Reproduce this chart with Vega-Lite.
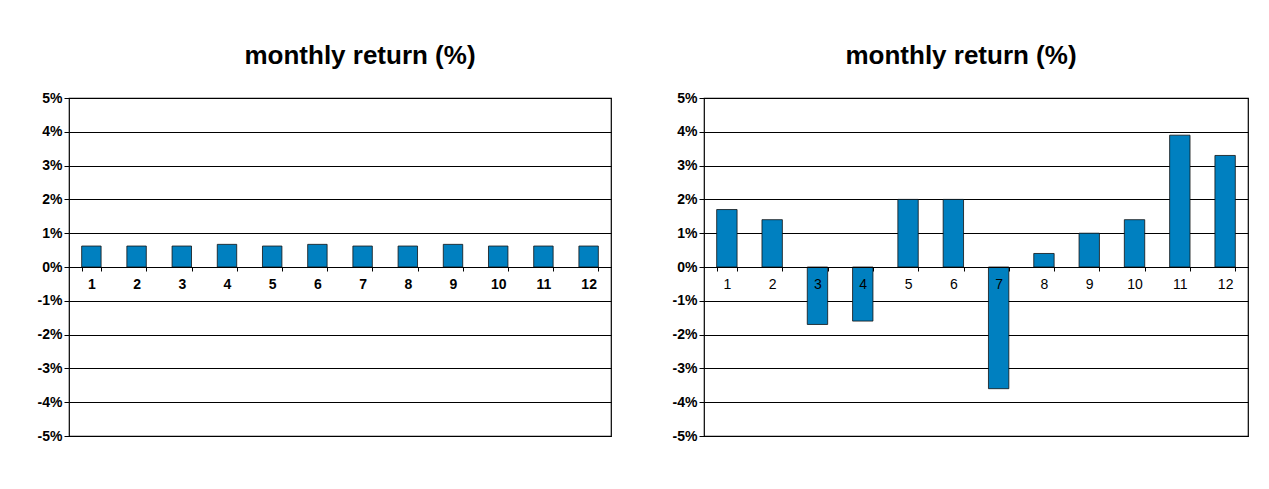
{
  "$schema": "https://vega.github.io/schema/vega-lite/v6.json",
  "background": "white",
  "padding": {"left": 28, "top": 42, "right": 5, "bottom": 5},
  "spacing": 51,
  "config": {
    "font": "Liberation Sans",
    "view": {"stroke": "#000", "strokeWidth": 1.2},
    "title": {"fontSize": 26, "fontWeight": "bold", "color": "#000", "offset": 22, "anchor": "middle"},
    "axis": {"labelColor": "#000", "tickColor": "#000", "domainColor": "#000", "labelFont": "Liberation Sans"}
  },
  "datasets": {
    "left": [
      {"month": "1", "ret": 0.62}, {"month": "2", "ret": 0.62}, {"month": "3", "ret": 0.62},
      {"month": "4", "ret": 0.67}, {"month": "5", "ret": 0.62}, {"month": "6", "ret": 0.67},
      {"month": "7", "ret": 0.62}, {"month": "8", "ret": 0.62}, {"month": "9", "ret": 0.67},
      {"month": "10", "ret": 0.62}, {"month": "11", "ret": 0.62}, {"month": "12", "ret": 0.62}
    ],
    "right": [
      {"month": "1", "ret": 1.7}, {"month": "2", "ret": 1.4}, {"month": "3", "ret": -1.7},
      {"month": "4", "ret": -1.6}, {"month": "5", "ret": 2.0}, {"month": "6", "ret": 2.0},
      {"month": "7", "ret": -3.6}, {"month": "8", "ret": 0.4}, {"month": "9", "ret": 1.0},
      {"month": "10", "ret": 1.4}, {"month": "11", "ret": 3.9}, {"month": "12", "ret": 3.3}
    ]
  },
  "hconcat": [
    {
      "title": {"text": "monthly return (%)", "dx": 20},
      "width": 542,
      "height": 338,
      "data": {"name": "left"},
      "mark": {"type": "bar", "fill": "#0080c0", "stroke": "#111", "strokeWidth": 0.8},
      "encoding": {
        "x": {
          "field": "month", "type": "ordinal", "sort": null,
          "scale": {"paddingInner": 0.57, "paddingOuter": 0.28},
          "axis": {"title": null, "labelAngle": 0, "offset": -169, "tickBand": "extent", "tickSize": 4,
                   "labelFontWeight": "bold", "labelFontSize": 14, "labelPadding": 6, "grid": false, "zindex": 1}
        },
        "y": {
          "field": "ret", "type": "quantitative",
          "scale": {"domain": [-5, 5], "nice": false},
          "axis": {"title": null, "values": [-5, -4, -3, -2, -1, 0, 1, 2, 3, 4, 5],
                   "labelExpr": "datum.value + '%'", "grid": true, "gridColor": "#000", "gridOpacity": 1,
                   "domain": false, "tickSize": 5, "labelFontWeight": "bold", "labelFontSize": 14,
                   "labelPadding": 2, "minExtent": 40, "maxExtent": 40}
        }
      }
    },
    {
      "title": {"text": "monthly return (%)", "dx": -15},
      "width": 544,
      "height": 338,
      "data": {"name": "right"},
      "mark": {"type": "bar", "fill": "#0080c0", "stroke": "#111", "strokeWidth": 0.8},
      "encoding": {
        "x": {
          "field": "month", "type": "ordinal", "sort": null,
          "scale": {"paddingInner": 0.55, "paddingOuter": 0.28},
          "axis": {"title": null, "labelAngle": 0, "offset": -169, "tickBand": "extent", "tickSize": 4,
                   "labelFontWeight": "normal", "labelFontSize": 14, "labelPadding": 6, "grid": false, "zindex": 1}
        },
        "y": {
          "field": "ret", "type": "quantitative",
          "scale": {"domain": [-5, 5], "nice": false},
          "axis": {"title": null, "values": [-5, -4, -3, -2, -1, 0, 1, 2, 3, 4, 5],
                   "labelExpr": "datum.value + '%'", "grid": true, "gridColor": "#000", "gridOpacity": 1,
                   "domain": false, "tickSize": 5, "labelFontWeight": "bold", "labelFontSize": 14,
                   "labelPadding": 2, "minExtent": 40, "maxExtent": 40}
        }
      }
    }
  ]
}
